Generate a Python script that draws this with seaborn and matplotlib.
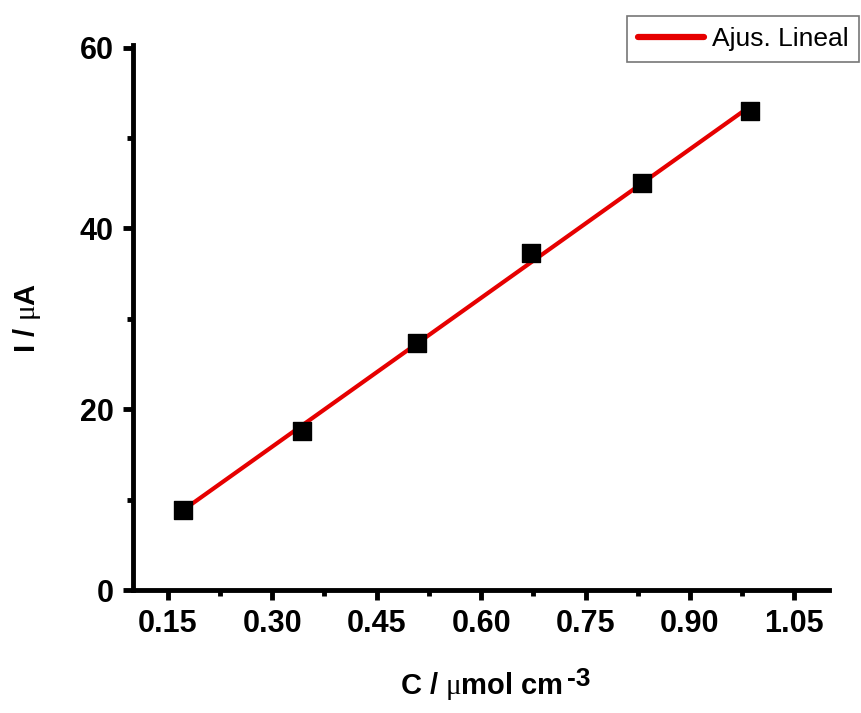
import numpy as np
import pandas as pd
import seaborn as sns
import matplotlib.pyplot as plt
from matplotlib.ticker import MultipleLocator

# data
conc = [0.172, 0.343, 0.508, 0.672, 0.831, 0.987]
current = [8.9, 17.6, 27.3, 37.3, 45.0, 53.0]
xtick_vals = [0.15, 0.30, 0.45, 0.60, 0.75, 0.90, 1.05]
xtick_labels = ['0.15', '0.30', '0.45', '0.60', '0.75', '0.90', '1.05']

df = pd.DataFrame({'conc': conc, 'current': current})

sns.set_style('ticks')
plt.rcParams['font.family'] = ['Liberation Sans', 'DejaVu Sans']
plt.rcParams['text.color'] = 'black'
plt.rcParams['axes.labelcolor'] = 'black'
plt.rcParams['xtick.color'] = 'black'
plt.rcParams['ytick.color'] = 'black'
plt.rcParams['axes.edgecolor'] = 'black'
plt.rcParams['mathtext.fontset'] = 'custom'
plt.rcParams['mathtext.rm'] = 'Liberation Serif'

fig = plt.figure(figsize=(8.61, 7.13), dpi=100)
ax = fig.add_axes([0.1545, 0.1725, 0.8085, 0.7645])

sns.regplot(data=df, x='conc', y='current', scatter=False, ci=None,
            color='#e60000', line_kws={'linewidth': 3.0}, ax=ax)
ax.lines[0].set_label('Ajus. Lineal')
sns.scatterplot(data=df, x='conc', y='current', marker='s', s=150,
                color='black', edgecolor='black', zorder=3, legend=False, ax=ax)

ax.set_ylim(0, 60.3)
ax.xaxis.set_minor_locator(MultipleLocator(0.075))
ax.yaxis.set_major_locator(MultipleLocator(20))
ax.yaxis.set_minor_locator(MultipleLocator(10))
ax.set_xticks(xtick_vals)
ax.set_xticklabels(xtick_labels)
ax.set_xlim(0.1, 1.1)

for side in ['top', 'right']:
    ax.spines[side].set_visible(False)
for side in ['left', 'bottom']:
    ax.spines[side].set_linewidth(3.5)
ax.tick_params(which='major', direction='out', length=7, width=3.5, labelsize=22, pad=7)
ax.tick_params(which='minor', direction='out', length=4, width=3.5)
for lab in ax.get_xticklabels() + ax.get_yticklabels():
    lab.set_fontweight('bold')

ax.set_xlabel(r'C / $\mathrm{\mu}$mol cm', fontsize=21, fontweight='bold', labelpad=22)
ax.set_ylabel(r'I / $\mathrm{\mu}$A', fontsize=21, fontweight='bold', labelpad=26)
ax.annotate('-3', xy=(1, 1), xycoords=ax.xaxis.label, xytext=(3, -15),
            textcoords='offset points', ha='left', va='bottom',
            fontsize=19, fontweight='bold')

leg = fig.legend(handles=[ax.lines[0]], loc='upper left', bbox_to_anchor=(0.728, 0.978),
                 fontsize=19, frameon=True, fancybox=False, handlelength=2.5,
                 borderpad=0.42, handletextpad=0.3, borderaxespad=0)
leg.get_frame().set_edgecolor('#555555')
leg.get_frame().set_linewidth(1.2)
leg.get_lines()[0].set_linewidth(4.5)

fig.savefig('out.png', dpi=100)
